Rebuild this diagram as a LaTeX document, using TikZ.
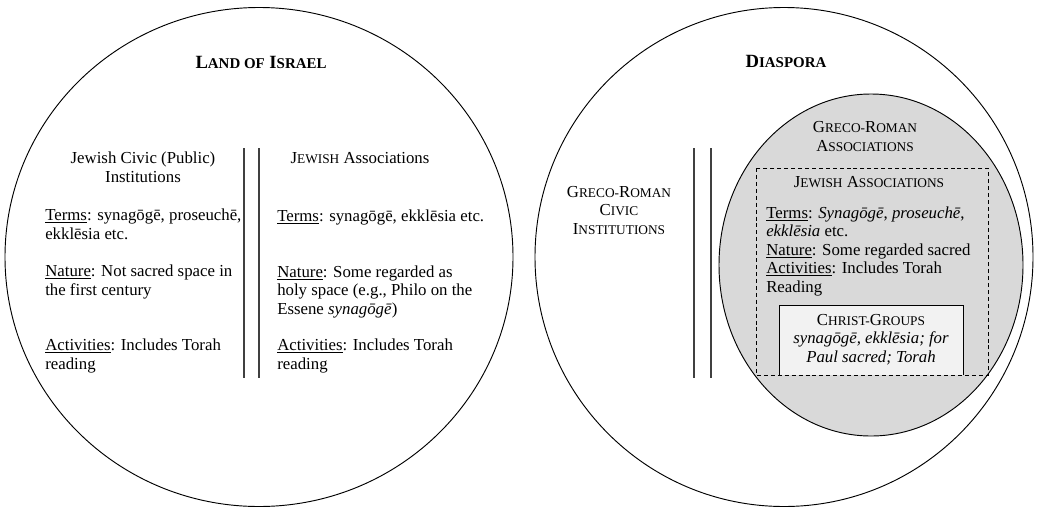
\documentclass[tikz,border=0pt]{standalone}
\usepackage{fontspec}
\setmainfont{Liberation Serif}
\definecolor{assocgray}{HTML}{D9D9D9}
\definecolor{christgray}{HTML}{F2F2F2}
% fake small caps (body and titles)
\newcommand\smc[1]{{\fontsize{10}{13.8}\selectfont #1}}
\newcommand\smt[1]{{\fontsize{11.2}{16}\selectfont #1}}

\tikzset{
  txt/.style={inner sep=0pt, font=\fontsize{12.6}{13.8}\selectfont, align=left},
  hdr/.style={txt, align=center},
  ttl/.style={inner sep=0pt, font=\fontsize{14}{16}\selectfont\bfseries},
  ring/.style={draw, line width=0.7pt},
  bar/.style={draw=black!75, line width=0.9pt},
}

\begin{document}
\begin{tikzpicture}[x=0.75pt,y=-0.75pt]
  \useasboundingbox (0,0) rectangle (1039,508);

  % land of israel (base = last line)
  \draw[ring] (259,257) ellipse [x radius=254, y radius=249.5];
  \node[ttl, anchor=base] (israel) at (261,68) {L\smt{AND OF} I\smt{SRAEL}};
  \draw[bar] (244,148) -- (244,378);
  \draw[bar] (259,148) -- (259,378);

  \node[hdr, anchor=base] (civichdr) at (143,182) {Jewish Civic (Public)\\Institutions};
  \node[txt, anchor=base west] (civterms) at (45,239)
    {\underline{Terms}: synagōgē, proseuchē,\\ekklēsia etc.};
  \node[txt, anchor=base west] (civnature) at (45,295)
    {\underline{Nature}: Not sacred space in\\the first century};
  \node[txt, anchor=base west] (civacts) at (45,369)
    {\underline{Activities}: Includes Torah\\reading};

  \node[hdr, anchor=base] (assochdr) at (360,163) {J\smc{EWISH} Associations};
  \node[txt, anchor=base west] (assterms) at (277,221)
    {\underline{Terms}: synagōgē, ekklēsia etc.};
  \node[txt, anchor=base west] (assnature) at (277,314)
    {\underline{Nature}: Some regarded as\\holy space (e.g., Philo on the\\Essene \textit{synagōgē})};
  \node[txt, anchor=base west] (assacts) at (277,369)
    {\underline{Activities}: Includes Torah\\reading};

  % diaspora
  \draw[ring] (784,257) ellipse [x radius=249, y radius=249.5];
  \node[ttl, anchor=base] (diaspora) at (786,67) {D\smt{IASPORA}};
  \node[hdr, anchor=base] (grcivic) at (619,234)
    {G\smc{RECO-}R\smc{OMAN}\\C\smc{IVIC}\\I\smc{NSTITUTIONS}};
  \draw[bar] (694,148) -- (694,378);
  \draw[bar] (711,148) -- (711,378);

  \filldraw[ring, fill=assocgray] (871,265) ellipse [x radius=152, y radius=171];
  \node[hdr, anchor=base] (grassoc) at (865,151)
    {G\smc{RECO-}R\smc{OMAN}\\A\smc{SSOCIATIONS}};

  \fill[christgray] (779,305) rectangle (963,375);
  \draw[line width=0.7pt] (779,375) |- (963,305) -- (963,375);
  \draw[line width=0.7pt, dash pattern=on 3pt off 2.2pt] (756,168) rectangle (988,375);

  \node[hdr, anchor=base] (jewassoc) at (869,187) {J\smc{EWISH} A\smc{SSOCIATIONS}};
  \node[txt, anchor=base west] (jewbody) at (766,292)
    {\underline{Terms}: \textit{Synagōgē}, \textit{proseuchē},\\\textit{ekklēsia} etc.\\
     \underline{Nature}: Some regarded sacred\\\underline{Activities}: Includes Torah\\Reading};
  \node[hdr, anchor=base] (christ) at (871,362)
    {C\smc{HRIST-}G\smc{ROUPS}\\\textit{synagōgē, ekklēsia; for}\\\textit{Paul sacred; Torah}};
\end{tikzpicture}
\end{document}
